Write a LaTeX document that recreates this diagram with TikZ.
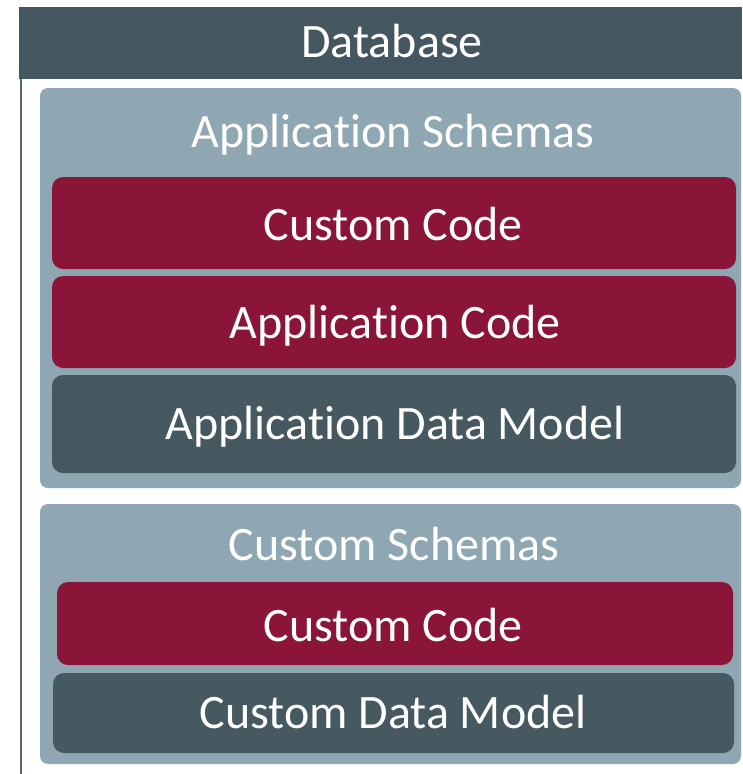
\documentclass[tikz,border=0pt]{standalone}
\usepackage{fontspec}
\setmainfont[Ligatures={NoCommon}]{Carlito}
\definecolor{hdr}{HTML}{44565F}
\definecolor{lite}{HTML}{8EA7B2}
\definecolor{wine}{HTML}{8A1538}
\definecolor{slate}{HTML}{465860}
\definecolor{lineg}{HTML}{5A6A72}
\begin{document}
\begin{tikzpicture}[x=1pt,y=-1pt,
  lbl/.style={text=white,font=\fontsize{48}{52}\selectfont,inner sep=0pt,anchor=center},
  schem/.style={fill=lite,rounded corners=8pt},
  redbox/.style={fill=wine,rounded corners=11pt},
  darkbox/.style={fill=slate,rounded corners=11pt}]
\useasboundingbox (0,0) rectangle (742,774);
\fill[white] (0,0) rectangle (742,774);
% header
\fill[hdr] (19,7) rectangle (742,79);
\draw[lineg,line width=1.2pt] (21,79) -- (21,774);
% application schemas
\fill[schem] (40,88) rectangle (741,488);
\fill[redbox] (52,177) rectangle (736,269);
\fill[redbox] (52,276) rectangle (736,368);
\fill[darkbox] (52,375) rectangle (736,473);
% custom schemas
\fill[schem] (40,504) rectangle (741,764);
\fill[redbox] (57,582) rectangle (733,665);
\fill[darkbox] (53,673) rectangle (734,753);
% labels
\node[lbl] (db) at (392,45) {\vphantom{Ap}Database};
\node[lbl] (as) at (393,135) {\vphantom{Ap}Application Schemas};
\node[lbl] (cc1) at (393,228) {\vphantom{Ap}Custom Code};
\node[lbl] (ac) at (395,326) {\vphantom{Ap}Application Code};
\node[lbl] (adm) at (395,427) {\vphantom{Ap}Application Data Model};
\node[lbl] (cs) at (394,548) {\vphantom{Ap}Custom Schemas};
\node[lbl] (cc2) at (393,629) {\vphantom{Ap}Custom Code};
\node[lbl] (cdm) at (393,716) {\vphantom{Ap}Custom Data Model};
\end{tikzpicture}
\end{document}
